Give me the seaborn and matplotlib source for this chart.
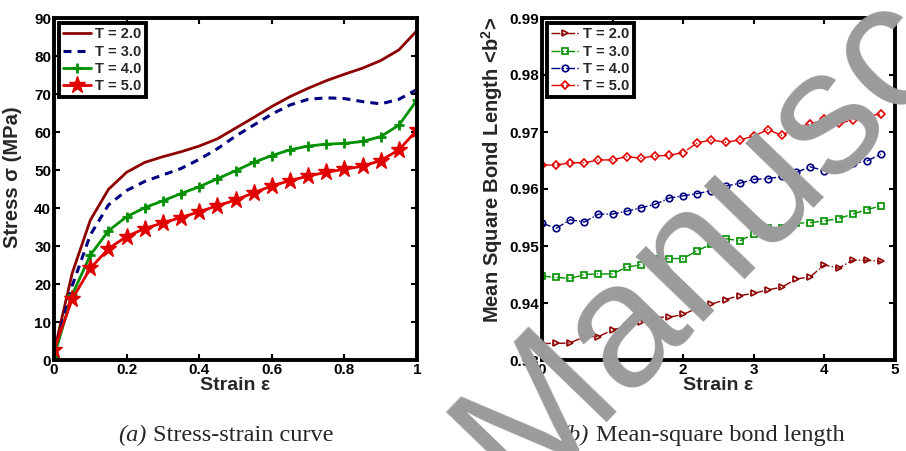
import matplotlib
matplotlib.use("Agg")
import matplotlib.pyplot as plt
import seaborn as sns
import numpy as np
import pandas as pd

# ---------------- data ----------------
strain_a = [0.00, 0.05, 0.10, 0.15, 0.20, 0.25, 0.30, 0.35, 0.40, 0.45, 0.50,
            0.55, 0.60, 0.65, 0.70, 0.75, 0.80, 0.85, 0.90, 0.95, 1.00]
stress_T2 = [2.0, 22.8, 36.8, 44.9, 49.4, 52.0, 53.5, 54.8, 56.3, 58.2, 61.0,
             63.8, 66.7, 69.3, 71.5, 73.5, 75.2, 76.8, 78.8, 81.6, 86.7]
stress_T3 = [1.5, 19.5, 32.9, 40.8, 44.6, 47.0, 48.7, 50.4, 52.8, 55.6, 58.9,
             61.8, 64.7, 67.1, 68.6, 69.0, 68.8, 68.0, 67.4, 68.6, 71.2]
stress_T4 = [0.9, 17.1, 27.6, 34.0, 37.7, 40.1, 41.9, 43.8, 45.6, 47.7, 49.8,
             52.0, 53.8, 55.3, 56.3, 56.8, 57.0, 57.5, 58.8, 61.8, 68.4]
stress_T5 = [2.6, 16.0, 24.1, 29.3, 32.5, 34.6, 36.1, 37.5, 39.0, 40.6, 42.1,
             44.0, 45.8, 47.2, 48.4, 49.4, 50.2, 51.0, 52.5, 55.3, 60.5]

strain_b = [0.0, 0.2, 0.4, 0.6, 0.8, 1.0, 1.2, 1.4, 1.6, 1.8, 2.0, 2.2, 2.4,
            2.6, 2.8, 3.0, 3.2, 3.4, 3.6, 3.8, 4.0, 4.2, 4.4, 4.6, 4.8]
bond_T2 = [0.9329, 0.9329, 0.9330, 0.9341, 0.9341, 0.9353, 0.9359, 0.9367, 0.9375,
           0.9375, 0.9380, 0.9391, 0.9398, 0.9406, 0.9413, 0.9417, 0.9423, 0.9428,
           0.9442, 0.9446, 0.9467, 0.9461, 0.9475, 0.9475, 0.9473]
bond_T3 = [0.9447, 0.9445, 0.9443, 0.9450, 0.9451, 0.9451, 0.9463, 0.9467, 0.9477,
           0.9478, 0.9478, 0.9492, 0.9503, 0.9513, 0.9509, 0.9521, 0.9531, 0.9532,
           0.9540, 0.9541, 0.9544, 0.9548, 0.9556, 0.9564, 0.9570]
bond_T4 = [0.9540, 0.9531, 0.9546, 0.9542, 0.9556, 0.9556, 0.9561, 0.9567, 0.9573,
           0.9584, 0.9588, 0.9592, 0.9597, 0.9605, 0.9610, 0.9617, 0.9618, 0.9622,
           0.9629, 0.9639, 0.9632, 0.9636, 0.9645, 0.9649, 0.9661]
bond_T5 = [0.9642, 0.9642, 0.9646, 0.9646, 0.9651, 0.9651, 0.9657, 0.9654, 0.9658,
           0.9659, 0.9664, 0.9681, 0.9686, 0.9682, 0.9686, 0.9693, 0.9704, 0.9694,
           0.9708, 0.9714, 0.9722, 0.9715, 0.9721, 0.9728, 0.9731]

labels = ["T = 2.0", "T = 3.0", "T = 4.0", "T = 5.0"]
xticks_a = [0, 0.2, 0.4, 0.6, 0.8, 1]
xticklabels_a = ["0", "0.2", "0.4", "0.6", "0.8", "1"]
yticks_a = [0, 10, 20, 30, 40, 50, 60, 70, 80, 90]
xticks_b = [0, 1, 2, 3, 4, 5]
yticks_b = [0.93, 0.94, 0.95, 0.96, 0.97, 0.98, 0.99]
yticklabels_b = ["0.93", "0.94", "0.95", "0.96", "0.97", "0.98", "0.99"]

# ---------------- style ----------------
sns.set_style("ticks")
plt.rcParams["font.family"] = ["Liberation Sans", "DejaVu Sans"]
plt.rcParams["font.weight"] = "bold"
plt.rcParams["axes.labelweight"] = "bold"
plt.rcParams["mathtext.fontset"] = "custom"
plt.rcParams["mathtext.rm"] = "Liberation Sans:bold"
plt.rcParams["mathtext.bf"] = "Liberation Sans:bold"
plt.rcParams["mathtext.default"] = "bf"

c_dred = "#8c0000"
c_navy = "#00007f"
c_green = "#009000"
c_red = "#e00000"

fig = plt.figure(figsize=(9.06, 4.51), dpi=100)
ax1 = fig.add_axes([54 / 906, 91 / 451, 363 / 906, 342 / 451])
ax2 = fig.add_axes([542 / 906, 91 / 451, 353 / 906, 342 / 451])

# ---------------- left panel ----------------
sns.lineplot(x=strain_a, y=stress_T2, ax=ax1, color=c_dred, linewidth=2,
             label=labels[0], sort=False)
sns.lineplot(x=strain_a, y=stress_T3, ax=ax1, color=c_navy, linewidth=2.2,
             linestyle=(0, (2.6, 2.0)), label=labels[1], sort=False)
sns.lineplot(x=strain_a, y=stress_T4, ax=ax1, color=c_green, linewidth=2,
             marker="+", markersize=7, markeredgewidth=2, markeredgecolor=c_green,
             label=labels[2], sort=False)
sns.lineplot(x=strain_a, y=stress_T5, ax=ax1, color=c_red, linewidth=2,
             marker="*", markersize=12.5, markeredgewidth=1, markeredgecolor=c_red,
             markerfacecolor=c_red, label=labels[3], sort=False)

ax1.set_xlim(0, 1)
ax1.set_ylim(0, 90)
ax1.set_xticks(xticks_a)
ax1.set_xticklabels(xticklabels_a)
ax1.set_yticks(yticks_a)
ax1.set_xlabel("Strain ε", fontsize=14, labelpad=0)
ax1.set_ylabel("Stress σ (MPa)", fontsize=14.5)
ax1.yaxis.set_label_coords(-0.088, 0.534)

# ---------------- right panel ----------------
specs = [(bond_T2, c_dred, ">"), (bond_T3, c_green, "s"),
         (bond_T4, c_navy, "o"), (bond_T5, c_red, "D")]
for (vals, col, mk), lab in zip(specs, labels):
    sns.lineplot(x=strain_b, y=vals, ax=ax2, color=col, linewidth=1,
                 linestyle="-.", marker=mk, markersize=4.7 if mk != "D" else 4.3,
                 markerfacecolor="none", markeredgecolor=col,
                 markeredgewidth=1.2, label=lab, sort=False)

ax2.set_xlim(0, 5)
ax2.set_ylim(0.93, 0.99)
ax2.set_xticks(xticks_b)
ax2.set_yticks(yticks_b)
ax2.set_yticklabels(yticklabels_b)
ax2.set_xlabel("Strain ε", fontsize=14, labelpad=0)
ax2.set_ylabel("Mean Square Bond Length <b$^{2}$>", fontsize=14.5)
ax2.yaxis.set_label_coords(-0.105, 0.556)

for ax in (ax1, ax2):
    for s in ax.spines.values():
        s.set_visible(True)
        s.set_linewidth(2.8)
        s.set_color("black")
    ax.tick_params(direction="in", top=True, right=True, length=4, width=1.5,
                   labelsize=11, pad=2, colors="black")
    for t in ax.get_xticklabels() + ax.get_yticklabels():
        t.set_fontweight("bold")
    leg = ax.legend(loc="upper left", bbox_to_anchor=(0.0, 1.0),
                    fontsize=10.5, frameon=True, fancybox=False, framealpha=1,
                    edgecolor="black", handlelength=1.9, handletextpad=0.25,
                    labelspacing=0.22, borderpad=0.3, borderaxespad=0.35)
    leg.get_frame().set_linewidth(2.8)
    for t in leg.get_texts():
        t.set_fontweight("bold")

# ---------------- captions ----------------
cap_y = 10 / 451
fig.text(147 / 906, cap_y, "(a)", family="Liberation Serif", style="italic",
         fontweight="normal", fontsize=17.5, ha="right", va="baseline")
fig.text(153 / 906, cap_y, "Stress-strain curve", family="Liberation Serif",
         fontweight="normal", fontsize=17.5, ha="left", va="baseline")
fig.text(589 / 906, cap_y, "(b)", family="Liberation Serif", style="italic",
         fontweight="normal", fontsize=17.5, ha="right", va="baseline")
fig.text(596 / 906, cap_y, "Mean-square bond length", family="Liberation Serif",
         fontweight="normal", fontsize=17.5, ha="left", va="baseline")

# ---------------- watermark ----------------
fig.text(520 / 906, (451 - 497) / 451, "Manuscript", rotation=46,
         rotation_mode="anchor", ha="left", va="baseline", fontsize=128,
         color="#9b9b9b", family="Liberation Sans", fontweight="normal",
         zorder=20)

fig.savefig("out.png", dpi=100)
